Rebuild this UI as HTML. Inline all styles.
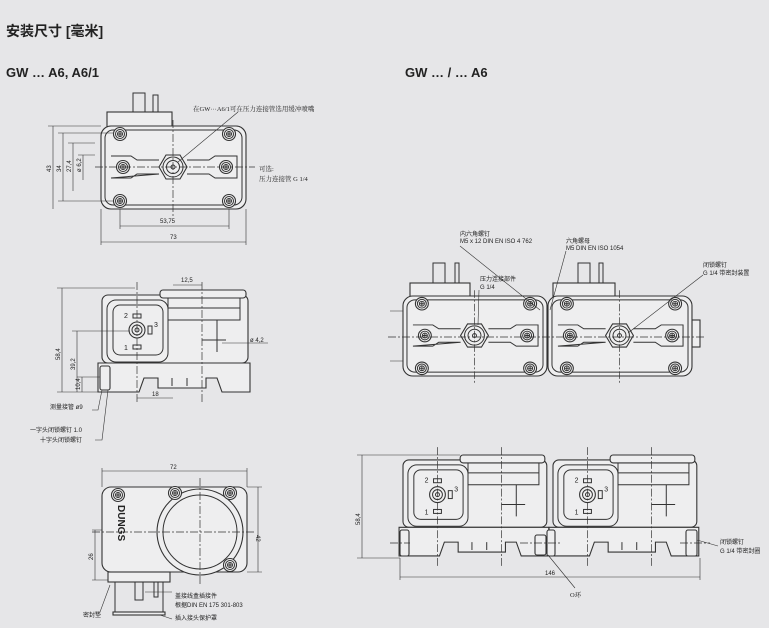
<!DOCTYPE html>
<html><head><meta charset="utf-8"><style>
body{margin:0;background:#fff}
svg{display:block}
text{font-family:"Liberation Sans","Noto Sans CJK SC",sans-serif;fill:#222}
.s{fill:none;stroke:#333;stroke-width:1}
.f{fill:#eeeeef;stroke:#333;stroke-width:1.1}
.c{fill:none;stroke:#333;stroke-width:.7;stroke-dasharray:8 2 2 2}
.d{fill:none;stroke:#333;stroke-width:.6}
.t{font-size:6px}
.tc{font-size:6.5px;font-family:"Liberation Serif","Noto Serif CJK SC",serif}
</style></head><body>
<svg width="780" height="628" viewBox="0 0 780 628" xmlns="http://www.w3.org/2000/svg">
<defs>
<g id="hole"><circle r="6.5" class="f"/><circle r="4.5" class="s"/><circle r="2.5" class="s"/><path d="M-2 0H2M0-2V2" class="s"/></g>
<g id="fit"><polygon points="14,0 7,12 -7,12 -14,0 -7,-12 7,-12" class="f"/><circle r="10" class="s"/><circle r="6.5" class="s"/><circle r="2" class="s"/></g>
<g id="top">
<rect x="0" y="0" width="145" height="83" rx="10" class="f"/>
<rect x="4" y="4" width="137" height="75" rx="8" class="s"/>
<path d="M10 30H30L36 34H58M86 34H108L114 30H136V52H114L108 48H86M58 48H36L30 52H10Z" class="s"/>
<use href="#hole" x="19" y="8"/><use href="#hole" x="128" y="8"/>
<use href="#hole" x="22" y="41"/><use href="#hole" x="125" y="41"/>
<use href="#hole" x="19" y="75"/><use href="#hole" x="128" y="75"/>
<use href="#fit" x="72" y="41"/>
<path d="M72 -6V92" class="c"/>
</g>
<g id="side">
<rect x="0" y="5" width="146" height="68" rx="6" class="f"/>
<rect x="5" y="10" width="61" height="62" rx="9" class="s"/>
<rect x="11" y="15" width="50" height="50" rx="7" class="s"/>
<circle cx="35" cy="40" r="8" class="f"/><circle cx="35" cy="40" r="5" class="s"/><circle cx="35" cy="40" r="2" class="s"/>
<text x="22" y="28" class="t" style="font-size:7px">2</text><text x="22" y="60" class="t" style="font-size:7px">1</text><text x="52" y="37" class="t" style="font-size:7px">3</text>
<rect x="31" y="24" width="8" height="4" class="s"/><rect x="31" y="55" width="8" height="4" class="s"/><rect x="46" y="36" width="4" height="8" class="s"/>
<rect x="58" y="0" width="86" height="8" rx="3" class="f"/>
<path d="M66 8V30H138V8M66 18H138M115 30V62M100 50H124" class="s"/>
<path d="M-4 73H148V102H120L115 88H104V98H56V88H42L37 102H-4Z" class="f"/>
<path d="M70 88V96M85 88V96" class="s"/>
<path d="M35 -8V112M100 -8V112" class="c"/>
</g>
</defs>
<rect width="769" height="628" fill="#e6e6e8"/>
<text x="6" y="36" style="font-size:14px;font-weight:bold;font-family:'Liberation Sans','Noto Sans CJK SC',sans-serif">安装尺寸 [毫米]</text>
<text x="6" y="77" style="font-size:13px;font-weight:bold">GW … A6, A6/1</text>
<text x="405" y="77" style="font-size:13px;font-weight:bold">GW … / … A6</text>

<!-- top-left view -->
<rect x="133" y="93" width="12" height="19" class="s"/><rect x="153" y="95" width="5" height="17" class="s"/>
<rect x="107" y="112" width="65" height="16" class="f"/>
<use href="#top" x="101" y="126"/>
<path d="M95 167H255" class="c"/>
<path d="M53 126V209M48 126H101M63 133V201M58 133H113M58 201H113M73 143V191M83 155V180M68 143H95M78 155H95" class="d"/>
<text class="t" transform="translate(51,172) rotate(-90)">43</text>
<text class="t" transform="translate(61,172) rotate(-90)">34</text>
<text class="t" transform="translate(71,172) rotate(-90)">27,4</text>
<text class="t" transform="translate(81,172) rotate(-90)">ø 6,2</text>
<path d="M120 209V229M229 209V229M120 226H229M101 209V245M246 209V245M101 242H246" class="d"/>
<text x="160" y="223" class="t">53,75</text><text x="170" y="239" class="t">73</text>
<path d="M178 162L238 112" class="d"/>
<text x="193" y="111" class="tc">在GW···A6/1可在压力连接管选用缓冲喷嘴</text>
<text x="259" y="171" class="tc">可选:</text><text x="259" y="181" class="tc">压力连接管 G 1/4</text>

<!-- middle-left side view -->
<use href="#side" x="102" y="290"/>
<rect x="100" y="366" width="10" height="24" rx="2" class="f"/>
<path d="M62 288V392M57 288H135M77 331V392M72 331H130M82 377V392M77 377H100M57 392H100" class="d"/>
<text class="t" transform="translate(60,360) rotate(-90)">58,4</text>
<text class="t" transform="translate(75,370) rotate(-90)">39,2</text>
<text class="t" transform="translate(80,390) rotate(-90)">10,4</text>
<path d="M137 398H173M173 285H202" class="d"/>
<text x="152" y="396" class="t">18</text><text x="181" y="282" class="t">12,5</text>
<path d="M222 343H268" class="d"/><text x="250" y="342" class="t">ø 4,2</text>
<path d="M102 390L98 410H92M108 390L102 440H95" class="d"/>
<text x="50" y="409" class="t">测量接管 ø9</text>
<text x="30" y="432" class="t">一字头闭锁螺钉 1.0</text><text x="40" y="442" class="t">十字头闭锁螺钉</text>

<!-- bottom-left view -->
<rect x="102" y="487" width="145" height="85" rx="9" class="f"/>
<circle cx="200" cy="532" r="43" class="f"/><circle cx="200" cy="532" r="37" class="s"/>
<use href="#hole" x="118" y="495"/><use href="#hole" x="175" y="493"/><use href="#hole" x="230" y="493"/><use href="#hole" x="230" y="565"/>
<path d="M200 478V585M92 532H255" class="c"/>
<text transform="translate(118,505) rotate(90)" style="font-size:10px;font-weight:bold">DUNGS</text>
<rect x="108" y="572" width="62" height="10" class="f"/>
<rect x="115" y="582" width="48" height="30" class="s"/>
<rect x="113" y="612" width="52" height="3" class="f"/>
<rect x="135" y="582" width="8" height="18" class="s"/><rect x="154" y="582" width="4" height="15" class="s"/>
<path d="M102 468V487M247 468V487M102 471H247M247 487H262M247 572H262M258 487V572M92 530H102M92 580H108M95 530V580" class="d"/>
<text x="170" y="469" class="t">72</text>
<text class="t" transform="translate(256,535) rotate(90)">42</text>
<text class="t" transform="translate(93,560) rotate(-90)">26</text>
<path d="M110 585L100 612H95M145 592H172M160 615L172 619" class="d"/>
<text x="83" y="617" class="t">密封垫</text>
<text x="175" y="598" class="t">盖接线盒插接件</text><text x="175" y="607" class="t">根据DIN EN 175 301-803</text>
<text x="175" y="620" class="t">插入接头保护罩</text>

<!-- top-right view -->
<rect x="433" y="263" width="12" height="20" class="s"/><rect x="455" y="263" width="4" height="20" class="s"/>
<rect x="410" y="283" width="60" height="15" class="f"/>
<rect x="578" y="263" width="12" height="20" class="s"/><rect x="599" y="263" width="4" height="20" class="s"/>
<rect x="553" y="283" width="62" height="15" class="f"/>
<rect x="692" y="320" width="8" height="27" class="f"/>
<use href="#top" x="403" y="296" transform="translate(403,296) scale(0.993,0.964) translate(-403,-296)"/>
<use href="#top" x="548" y="296" transform="translate(548,296) scale(0.993,0.964) translate(-548,-296)"/>
<path d="M388 337H705" class="c"/>
<path d="M390 311H403M390 361H403" class="d"/>
<path d="M460 246L540 310M566 251L550 310M479 290L478 325M703 275L628 333" class="d"/>
<text x="460" y="236" class="t">内六角螺钉</text><text x="460" y="243" class="t">M5 x 12 DIN EN ISO 4 762</text>
<text x="566" y="243" class="t">六角螺母</text><text x="566" y="250" class="t">M5 DIN EN ISO 1054</text>
<text x="480" y="281" class="t">压力连接部件</text><text x="480" y="289" class="t">G 1/4</text>
<text x="703" y="267" class="t">闭锁螺钉</text><text x="703" y="275" class="t">G 1/4 带密封装置</text>

<!-- bottom-right side view -->
<g transform="translate(403,455) scale(0.985,0.99)"><use href="#side"/></g>
<g transform="translate(553,455) scale(0.985,0.99)"><use href="#side"/></g>
<rect x="400" y="530" width="9" height="26" rx="2" class="f"/>
<rect x="535" y="535" width="11" height="20" rx="2" class="f"/><rect x="547" y="530" width="8" height="26" rx="2" class="f"/>
<rect x="686" y="530" width="11" height="26" rx="2" class="f"/>
<path d="M390 543H410M520 543H560M680 543H710" class="c"/>
<path d="M362 455V558M357 455H460M357 558H400M400 558V580M700 558V580M400 577H700" class="d"/>
<text class="t" transform="translate(360,525) rotate(-90)">58,4</text>
<text x="545" y="575" class="t">146</text>
<path d="M548 555L575 588M697 540L718 546" class="d"/>
<text x="570" y="597" class="tc">O环</text>
<text x="720" y="544" class="t">闭锁螺钉</text><text x="720" y="553" class="t">G 1/4 带密封圈</text>
</svg>
</body></html>
